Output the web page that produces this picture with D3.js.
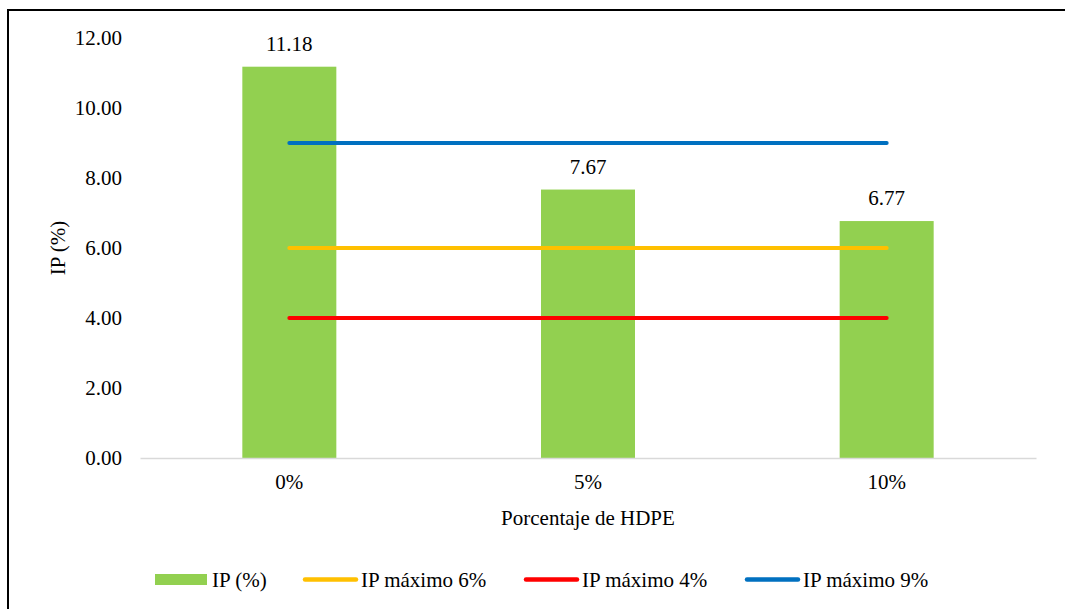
<!DOCTYPE html>
<html><head><meta charset="utf-8">
<script src="https://cdn.jsdelivr.net/npm/d3@7"></script>
<style>
body{margin:0;background:#fff}
#c text{font-family:"Times New Roman","Liberation Serif",Tinos,serif !important}
</style>
</head><body>
<svg id="c" width="1065" height="609"></svg>
<script>
const categories = ["0%", "5%", "10%"];
const ipValues = [11.18, 7.67, 6.77];
const limitNames = ["IP máximo 6%", "IP máximo 4%", "IP máximo 9%"];
const limitValues = [6, 4, 9];
const limitColors = ["#FFC000", "#FF0000", "#0070C0"];
const yTicks = [0, 2, 4, 6, 8, 10, 12];
const barColor = "#92D050";
const FS = 21;

const svg = d3.select("#c");
svg.append("rect").attr("x", 8).attr("y", 10).attr("width", 1070).attr("height", 620)
  .attr("fill", "none").attr("stroke", "#000").attr("stroke-width", 2);

const L = 140, R = 1036, T = 38, B = 458;
const x = d3.scaleBand().domain(categories).range([L, R]);
const y = d3.scaleLinear().domain([0, 12]).range([B, T]);
const bw = 94;

function txt(sel) {
  return sel.attr("font-family", "Times New Roman").attr("font-size", FS)
    .style("font-size", FS + "px").attr("fill", "#000");
}

// y axis labels
const yAxis = svg.append("g").attr("transform", `translate(${L},0)`)
  .call(d3.axisLeft(y).tickValues(yTicks).tickFormat(d3.format(".2f")).tickSize(0).tickPadding(18));
yAxis.attr("font-family", null).attr("font-size", null);
yAxis.select(".domain").remove();
txt(yAxis.selectAll("text"));

// bars
svg.selectAll(".bar").data(ipValues).enter().append("rect")
  .attr("x", (d, i) => x(categories[i]) + x.bandwidth() / 2 - bw / 2)
  .attr("y", d => y(d)).attr("width", bw).attr("height", d => B - y(d))
  .attr("fill", barColor);

// x axis
const xAxis = svg.append("g").attr("transform", `translate(0,${B})`)
  .call(d3.axisBottom(x).tickSize(0).tickPadding(16));
xAxis.attr("font-family", null).attr("font-size", null);
xAxis.select(".domain").attr("stroke", "#d9d9d9").attr("stroke-width", 1.5);
txt(xAxis.selectAll("text"));

// data labels
txt(svg.selectAll(".lbl").data(ipValues).enter().append("text")
  .attr("x", (d, i) => x(categories[i]) + x.bandwidth() / 2)
  .attr("y", d => y(d) - 16).attr("text-anchor", "middle")
  .text(d => d.toFixed(2)));

// limit lines
const xs = categories.map(c => x(c) + x.bandwidth() / 2);
limitValues.forEach((v, i) => {
  svg.append("line").attr("x1", xs[0]).attr("x2", xs[xs.length - 1])
    .attr("y1", y(v)).attr("y2", y(v)).attr("stroke", limitColors[i])
    .attr("stroke-width", 4).attr("stroke-linecap", "round");
});

// axis titles
txt(svg.append("text").attr("transform", `translate(65,${(T + B) / 2}) rotate(-90)`)
  .attr("text-anchor", "middle").text("IP (%)"));
txt(svg.append("text").attr("x", (L + R) / 2).attr("y", 525).attr("text-anchor", "middle")
  .text("Porcentaje de HDPE"));

// legend
const ly = 579.5;
const lg = svg.append("g");
lg.append("rect").attr("x", 155).attr("y", ly - 5.5).attr("width", 52).attr("height", 11).attr("fill", barColor);
txt(lg.append("text").attr("x", 212).attr("y", ly + 7).text("IP (%)"));
const lx = [303, 524, 745];
limitNames.forEach((n, i) => {
  lg.append("line").attr("x1", lx[i] + 2).attr("x2", lx[i] + 53).attr("y1", ly).attr("y2", ly)
    .attr("stroke", limitColors[i]).attr("stroke-width", 4.5).attr("stroke-linecap", "round");
  txt(lg.append("text").attr("x", lx[i] + 58).attr("y", ly + 7).text(n));
});
</script>
</body></html>
